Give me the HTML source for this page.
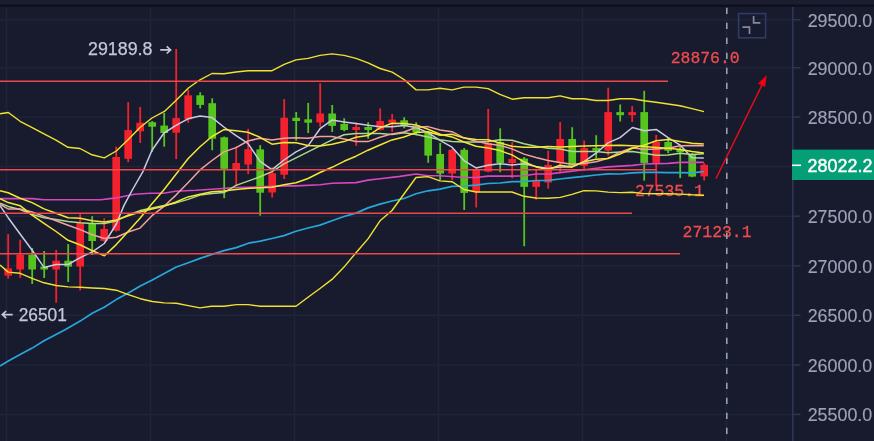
<!DOCTYPE html><html><head><meta charset="utf-8"><title>chart</title><style>html,body{margin:0;padding:0;background:#171b2d;overflow:hidden}svg{display:block}text{font-family:"Liberation Sans",sans-serif}.m{font-family:"Liberation Mono","DejaVu Sans Mono",monospace}</style></head><body>
<svg width="874" height="441" viewBox="0 0 874 441">
<rect width="874" height="441" fill="#171b2d"/>
<rect width="874" height="4.6" fill="#1b1d31"/>
<rect y="4.6" width="874" height="2.2" fill="#0f101b"/>
<g stroke="#1e2439" stroke-width="1.5"><line x1="0" y1="19.7" x2="792" y2="19.7"/><line x1="0" y1="67.7" x2="792" y2="67.7"/><line x1="0" y1="117.1" x2="792" y2="117.1"/><line x1="0" y1="166.7" x2="792" y2="166.7"/><line x1="0" y1="216.2" x2="792" y2="216.2"/><line x1="0" y1="265.8" x2="792" y2="265.8"/><line x1="0" y1="315.3" x2="792" y2="315.3"/><line x1="0" y1="364.9" x2="792" y2="364.9"/><line x1="0" y1="414.4" x2="792" y2="414.4"/><line x1="6.5" y1="7" x2="6.5" y2="441"/><line x1="150.5" y1="7" x2="150.5" y2="441"/><line x1="294.5" y1="7" x2="294.5" y2="441"/><line x1="438.5" y1="7" x2="438.5" y2="441"/><line x1="582.5" y1="7" x2="582.5" y2="441"/><line x1="726.5" y1="7" x2="726.5" y2="441"/></g>
<line x1="792.8" y1="7" x2="792.8" y2="441" stroke="#2c3757" stroke-width="1.6"/>
<line x1="792" y1="19.7" x2="800.5" y2="19.7" stroke="#2c3757" stroke-width="1.5"/><text x="807.7" y="26.6" font-size="18" fill="#9da2b8" stroke="#9da2b8" stroke-width="0.15" textLength="64.6" lengthAdjust="spacingAndGlyphs">29500.0</text><line x1="792" y1="67.7" x2="800.5" y2="67.7" stroke="#2c3757" stroke-width="1.5"/><text x="807.7" y="74.6" font-size="18" fill="#9da2b8" stroke="#9da2b8" stroke-width="0.15" textLength="64.6" lengthAdjust="spacingAndGlyphs">29000.0</text><line x1="792" y1="117.1" x2="800.5" y2="117.1" stroke="#2c3757" stroke-width="1.5"/><text x="807.7" y="124.0" font-size="18" fill="#9da2b8" stroke="#9da2b8" stroke-width="0.15" textLength="64.6" lengthAdjust="spacingAndGlyphs">28500.0</text><line x1="792" y1="166.7" x2="800.5" y2="166.7" stroke="#2c3757" stroke-width="1.5"/><text x="807.7" y="173.6" font-size="18" fill="#9da2b8" stroke="#9da2b8" stroke-width="0.15" textLength="64.6" lengthAdjust="spacingAndGlyphs">28000.0</text><line x1="792" y1="216.2" x2="800.5" y2="216.2" stroke="#2c3757" stroke-width="1.5"/><text x="807.7" y="223.1" font-size="18" fill="#9da2b8" stroke="#9da2b8" stroke-width="0.15" textLength="64.6" lengthAdjust="spacingAndGlyphs">27500.0</text><line x1="792" y1="265.8" x2="800.5" y2="265.8" stroke="#2c3757" stroke-width="1.5"/><text x="807.7" y="272.6" font-size="18" fill="#9da2b8" stroke="#9da2b8" stroke-width="0.15" textLength="64.6" lengthAdjust="spacingAndGlyphs">27000.0</text><line x1="792" y1="315.3" x2="800.5" y2="315.3" stroke="#2c3757" stroke-width="1.5"/><text x="807.7" y="322.2" font-size="18" fill="#9da2b8" stroke="#9da2b8" stroke-width="0.15" textLength="64.6" lengthAdjust="spacingAndGlyphs">26500.0</text><line x1="792" y1="364.9" x2="800.5" y2="364.9" stroke="#2c3757" stroke-width="1.5"/><text x="807.7" y="371.8" font-size="18" fill="#9da2b8" stroke="#9da2b8" stroke-width="0.15" textLength="64.6" lengthAdjust="spacingAndGlyphs">26000.0</text><line x1="792" y1="414.4" x2="800.5" y2="414.4" stroke="#2c3757" stroke-width="1.5"/><text x="807.7" y="421.3" font-size="18" fill="#9da2b8" stroke="#9da2b8" stroke-width="0.15" textLength="64.6" lengthAdjust="spacingAndGlyphs">25500.0</text>
<rect x="7.30" y="234.1" width="1.8" height="44.6" fill="#f2212d"/><rect x="4.35" y="268.3" width="7.7" height="7.3" fill="#f2212d"/><rect x="19.30" y="239.7" width="1.8" height="38.3" fill="#f2212d"/><rect x="16.35" y="254.8" width="7.7" height="14.7" fill="#f2212d"/><rect x="31.30" y="248.1" width="1.8" height="35.9" fill="#55c41c"/><rect x="28.35" y="254.8" width="7.7" height="14.7" fill="#55c41c"/><rect x="43.30" y="251.0" width="1.8" height="27.0" fill="#55c41c"/><rect x="40.35" y="266.6" width="7.7" height="2.9" fill="#55c41c"/><rect x="55.30" y="250.0" width="1.8" height="52.7" fill="#f2212d"/><rect x="52.35" y="260.7" width="7.7" height="8.8" fill="#f2212d"/><rect x="67.30" y="244.1" width="1.8" height="37.9" fill="#55c41c"/><rect x="64.35" y="260.7" width="7.7" height="5.9" fill="#55c41c"/><rect x="79.30" y="213.9" width="1.8" height="76.5" fill="#f2212d"/><rect x="76.35" y="223.0" width="7.7" height="43.6" fill="#f2212d"/><rect x="91.30" y="216.2" width="1.8" height="38.8" fill="#55c41c"/><rect x="88.35" y="223.4" width="7.7" height="17.6" fill="#55c41c"/><rect x="103.30" y="218.3" width="1.8" height="23.2" fill="#f2212d"/><rect x="100.35" y="229.0" width="7.7" height="11.8" fill="#f2212d"/><rect x="115.30" y="146.7" width="1.8" height="84.8" fill="#f2212d"/><rect x="112.35" y="157.0" width="7.7" height="73.7" fill="#f2212d"/><rect x="127.30" y="102.1" width="1.8" height="60.1" fill="#f2212d"/><rect x="124.35" y="130.1" width="7.7" height="28.7" fill="#f2212d"/><rect x="139.30" y="106.9" width="1.8" height="36.1" fill="#f2212d"/><rect x="136.35" y="122.7" width="7.7" height="8.6" fill="#f2212d"/><rect x="151.30" y="121.0" width="1.8" height="30.9" fill="#55c41c"/><rect x="148.35" y="122.2" width="7.7" height="4.5" fill="#55c41c"/><rect x="163.30" y="113.0" width="1.8" height="33.7" fill="#55c41c"/><rect x="160.35" y="125.6" width="7.7" height="7.4" fill="#55c41c"/><rect x="175.30" y="48.9" width="1.8" height="110.2" fill="#f2212d"/><rect x="172.35" y="118.1" width="7.7" height="14.6" fill="#f2212d"/><rect x="187.30" y="89.8" width="1.8" height="32.9" fill="#f2212d"/><rect x="184.35" y="95.3" width="7.7" height="24.0" fill="#f2212d"/><rect x="199.30" y="92.3" width="1.8" height="16.2" fill="#55c41c"/><rect x="196.35" y="95.3" width="7.7" height="9.6" fill="#55c41c"/><rect x="211.30" y="98.3" width="1.8" height="51.9" fill="#55c41c"/><rect x="208.35" y="103.2" width="7.7" height="35.5" fill="#55c41c"/><rect x="223.30" y="136.5" width="1.8" height="61.7" fill="#55c41c"/><rect x="220.35" y="137.3" width="7.7" height="31.5" fill="#55c41c"/><rect x="235.30" y="146.6" width="1.8" height="38.9" fill="#f2212d"/><rect x="232.35" y="163.0" width="7.7" height="7.0" fill="#f2212d"/><rect x="247.30" y="128.8" width="1.8" height="45.4" fill="#f2212d"/><rect x="244.35" y="149.2" width="7.7" height="15.3" fill="#f2212d"/><rect x="259.30" y="145.1" width="1.8" height="70.5" fill="#55c41c"/><rect x="256.35" y="149.4" width="7.7" height="43.3" fill="#55c41c"/><rect x="271.30" y="167.4" width="1.8" height="30.1" fill="#f2212d"/><rect x="268.35" y="173.2" width="7.7" height="19.3" fill="#f2212d"/><rect x="283.30" y="99.1" width="1.8" height="79.9" fill="#f2212d"/><rect x="280.35" y="117.8" width="7.7" height="56.9" fill="#f2212d"/><rect x="295.30" y="112.0" width="1.8" height="28.7" fill="#55c41c"/><rect x="292.35" y="117.8" width="7.7" height="3.2" fill="#55c41c"/><rect x="307.30" y="102.9" width="1.8" height="30.1" fill="#55c41c"/><rect x="304.35" y="119.3" width="7.7" height="3.4" fill="#55c41c"/><rect x="319.30" y="83.2" width="1.8" height="43.6" fill="#f2212d"/><rect x="316.35" y="113.5" width="7.7" height="8.9" fill="#f2212d"/><rect x="331.30" y="105.0" width="1.8" height="27.0" fill="#55c41c"/><rect x="328.35" y="113.5" width="7.7" height="12.4" fill="#55c41c"/><rect x="343.30" y="118.3" width="1.8" height="13.0" fill="#55c41c"/><rect x="340.35" y="123.9" width="7.7" height="6.1" fill="#55c41c"/><rect x="355.30" y="122.7" width="1.8" height="23.2" fill="#f2212d"/><rect x="352.35" y="127.0" width="7.7" height="3.0" fill="#f2212d"/><rect x="367.30" y="122.2" width="1.8" height="16.5" fill="#55c41c"/><rect x="364.35" y="127.0" width="7.7" height="3.0" fill="#55c41c"/><rect x="379.30" y="108.4" width="1.8" height="22.1" fill="#f2212d"/><rect x="376.35" y="121.0" width="7.7" height="8.8" fill="#f2212d"/><rect x="391.30" y="114.0" width="1.8" height="17.9" fill="#f2212d"/><rect x="388.35" y="119.6" width="7.7" height="3.1" fill="#f2212d"/><rect x="403.30" y="117.2" width="1.8" height="11.1" fill="#55c41c"/><rect x="400.35" y="120.3" width="7.7" height="5.1" fill="#55c41c"/><rect x="415.30" y="122.3" width="1.8" height="12.9" fill="#55c41c"/><rect x="412.35" y="125.7" width="7.7" height="6.9" fill="#55c41c"/><rect x="427.30" y="131.5" width="1.8" height="31.3" fill="#55c41c"/><rect x="424.35" y="132.6" width="7.7" height="23.0" fill="#55c41c"/><rect x="439.30" y="142.9" width="1.8" height="37.1" fill="#55c41c"/><rect x="436.35" y="154.0" width="7.7" height="19.5" fill="#55c41c"/><rect x="451.30" y="148.6" width="1.8" height="31.4" fill="#f2212d"/><rect x="448.35" y="149.8" width="7.7" height="23.7" fill="#f2212d"/><rect x="463.30" y="148.0" width="1.8" height="62.0" fill="#55c41c"/><rect x="460.35" y="149.8" width="7.7" height="43.1" fill="#55c41c"/><rect x="475.30" y="169.0" width="1.8" height="38.5" fill="#f2212d"/><rect x="472.35" y="169.4" width="7.7" height="22.6" fill="#f2212d"/><rect x="487.30" y="108.9" width="1.8" height="63.4" fill="#f2212d"/><rect x="484.35" y="142.9" width="7.7" height="28.7" fill="#f2212d"/><rect x="499.30" y="128.3" width="1.8" height="43.9" fill="#55c41c"/><rect x="496.35" y="142.0" width="7.7" height="21.0" fill="#55c41c"/><rect x="511.30" y="142.0" width="1.8" height="36.3" fill="#f2212d"/><rect x="508.35" y="158.9" width="7.7" height="4.1" fill="#f2212d"/><rect x="523.30" y="157.0" width="1.8" height="89.2" fill="#55c41c"/><rect x="520.35" y="158.6" width="7.7" height="28.3" fill="#55c41c"/><rect x="535.30" y="168.9" width="1.8" height="30.9" fill="#f2212d"/><rect x="532.35" y="180.9" width="7.7" height="6.0" fill="#f2212d"/><rect x="547.30" y="150.6" width="1.8" height="38.0" fill="#f2212d"/><rect x="544.35" y="164.9" width="7.7" height="17.6" fill="#f2212d"/><rect x="559.30" y="122.0" width="1.8" height="50.0" fill="#f2212d"/><rect x="556.35" y="139.0" width="7.7" height="24.0" fill="#f2212d"/><rect x="571.30" y="127.2" width="1.8" height="40.2" fill="#55c41c"/><rect x="568.35" y="139.0" width="7.7" height="27.0" fill="#55c41c"/><rect x="583.30" y="140.5" width="1.8" height="29.8" fill="#f2212d"/><rect x="580.35" y="148.1" width="7.7" height="17.6" fill="#f2212d"/><rect x="595.30" y="135.2" width="1.8" height="23.1" fill="#55c41c"/><rect x="592.35" y="148.1" width="7.7" height="2.5" fill="#55c41c"/><rect x="607.30" y="87.7" width="1.8" height="68.0" fill="#f2212d"/><rect x="604.35" y="112.1" width="7.7" height="38.5" fill="#f2212d"/><rect x="619.30" y="104.5" width="1.8" height="17.0" fill="#55c41c"/><rect x="616.35" y="112.1" width="7.7" height="3.1" fill="#55c41c"/><rect x="631.30" y="106.1" width="1.8" height="15.9" fill="#f2212d"/><rect x="628.35" y="112.1" width="7.7" height="3.1" fill="#f2212d"/><rect x="643.30" y="90.8" width="1.8" height="89.8" fill="#55c41c"/><rect x="640.35" y="112.1" width="7.7" height="50.8" fill="#55c41c"/><rect x="655.30" y="134.9" width="1.8" height="51.7" fill="#f2212d"/><rect x="652.35" y="142.0" width="7.7" height="20.9" fill="#f2212d"/><rect x="667.30" y="137.7" width="1.8" height="15.5" fill="#55c41c"/><rect x="664.35" y="142.0" width="7.7" height="8.7" fill="#55c41c"/><rect x="679.30" y="145.4" width="1.8" height="32.7" fill="#55c41c"/><rect x="676.35" y="149.6" width="7.7" height="2.6" fill="#55c41c"/><rect x="691.30" y="153.0" width="1.8" height="24.2" fill="#55c41c"/><rect x="688.35" y="154.0" width="7.7" height="22.6" fill="#55c41c"/><rect x="703.30" y="163.2" width="1.8" height="17.3" fill="#f2212d"/><rect x="700.35" y="164.8" width="7.7" height="11.6" fill="#f2212d"/>
<text class="m" x="670.7" y="63.4" font-size="17" fill="#f04c4e" stroke="#f04c4e" stroke-width="0.3" textLength="69" lengthAdjust="spacingAndGlyphs">28876.0</text>
<text class="m" x="682.6" y="237.2" font-size="17" fill="#f04c4e" stroke="#f04c4e" stroke-width="0.3" textLength="69" lengthAdjust="spacingAndGlyphs">27123.1</text>
<text class="m" x="634.9" y="195.9" font-size="17" fill="#f04c4e" stroke="#f04c4e" stroke-width="0.3" textLength="69" lengthAdjust="spacingAndGlyphs">27535.1</text>
<polyline points="0.0,366.0 8.3,361.0 20.1,354.4 32.2,348.1 44.0,340.8 56.0,334.5 64.6,330.0 80.2,321.1 92.2,313.3 104.2,307.3 116.2,299.6 128.3,293.1 140.3,285.9 152.3,279.9 164.3,273.5 176.3,267.0 188.3,262.7 200.0,258.4 212.0,254.4 224.0,250.6 236.2,247.6 248.4,243.2 260.3,241.2 272.0,238.5 284.0,235.6 296.0,231.2 308.0,228.0 320.0,225.1 332.0,220.8 344.0,216.5 356.0,213.1 368.0,207.9 380.0,204.1 392.0,201.0 404.0,198.5 416.0,193.8 428.0,190.8 440.0,189.1 452.0,186.4 464.0,186.0 476.0,185.2 488.0,183.5 500.0,183.0 512.0,181.7 524.0,181.7 536.0,180.5 548.0,180.3 560.0,179.0 572.0,177.6 584.3,176.3 596.0,175.0 608.0,173.9 620.0,174.0 632.4,172.8 644.0,172.4 656.0,172.4 668.0,172.6 680.0,172.6 692.0,172.8 703.8,171.6" fill="none" stroke="#27a7dc" stroke-width="1.7" stroke-linejoin="round"/>
<polyline points="0.0,198.6 32.7,198.6 44.0,199.8 100.7,199.8 110.0,198.6 117.2,197.7 134.3,194.3 150.0,193.2 163.5,193.2 175.5,191.2 196.0,190.3 212.0,189.2 236.0,187.5 250.0,187.2 284.3,185.9 296.0,185.9 320.0,184.8 332.0,183.3 356.0,182.6 368.0,180.1 380.0,178.7 400.0,176.4 416.0,174.0 428.0,175.7 440.0,175.7 464.0,177.5 476.0,177.5 488.0,176.1 512.0,176.1 524.0,175.7 536.0,174.0 550.0,173.9 584.3,169.8 608.0,166.9 632.4,165.4 644.2,164.0 668.1,163.4 680.2,162.4 703.8,162.4" fill="none" stroke="#d846c0" stroke-width="1.6" stroke-linejoin="round"/>
<polyline points="0.0,113.8 8.3,112.5 20.1,121.3 32.2,127.6 44.0,133.9 56.0,140.2 68.0,147.3 80.0,148.5 92.0,154.8 104.3,157.9 116.3,151.0 128.3,139.5 140.0,127.5 152.0,118.0 164.4,111.4 176.4,100.0 188.4,88.0 200.0,79.8 212.0,73.5 224.0,73.8 236.0,72.0 248.0,70.7 260.0,70.7 272.1,70.7 284.2,64.4 296.0,59.9 308.1,58.4 320.0,55.4 332.0,53.9 344.1,55.4 356.0,58.4 368.0,62.9 380.1,68.5 392.2,72.2 404.0,79.5 416.1,89.9 427.9,89.9 440.0,88.2 452.1,89.9 463.9,87.1 476.0,87.1 488.1,88.6 499.9,94.4 512.2,99.2 524.1,97.7 536.0,97.7 548.2,97.7 560.1,95.9 572.1,98.8 584.0,98.8 596.0,100.5 608.1,100.5 620.0,98.7 632.0,98.7 644.0,100.7 656.0,102.3 668.0,104.0 680.0,105.7 692.0,108.6 704.0,111.6" fill="none" stroke="#f2e22f" stroke-width="1.4" stroke-linejoin="round"/>
<polyline points="0.0,265.1 8.2,272.1 20.1,273.3 32.1,278.4 44.0,282.8 56.1,285.5 68.1,286.9 80.2,287.3 92.2,288.0 104.2,288.5 116.2,290.2 128.3,294.6 140.3,298.7 152.3,301.5 164.3,302.9 176.3,303.3 188.3,305.6 200.0,307.9 211.4,306.3 224.0,306.3 236.4,304.6 248.4,304.6 260.3,306.3 272.0,306.3 284.0,306.3 296.0,306.3 308.0,297.3 320.0,288.5 332.0,279.4 344.0,267.1 356.0,252.7 368.0,238.9 380.0,220.8 392.0,210.5 404.0,194.0 416.0,177.5 428.0,176.6 440.0,180.9 452.0,181.7 464.0,189.5 476.0,192.0 488.0,192.0 500.0,192.0 512.0,192.0 524.0,196.3 536.0,198.0 548.0,198.3 560.3,197.4 572.0,194.4 584.0,190.6 596.0,190.9 608.0,192.1 620.0,192.6 632.0,192.3 644.0,193.6 656.0,193.8 668.0,193.8 680.0,194.1 692.0,194.8 704.0,195.2" fill="none" stroke="#f2e22f" stroke-width="1.4" stroke-linejoin="round"/>
<polyline points="0.0,205.7 8.2,217.7 20.1,234.0 32.0,250.0 44.0,267.4 56.1,264.5 68.1,264.5 80.2,257.6 92.3,251.9 104.3,243.5 116.3,224.0 124.0,205.4 132.3,190.0 142.9,171.6 152.0,150.2 164.0,133.0 176.0,125.3 188.0,118.8 200.0,115.9 212.0,117.6 223.9,127.0 236.1,135.6 247.9,143.3 260.0,161.3 272.0,169.6 284.0,160.0 296.0,151.9 308.0,145.9 320.0,128.7 332.0,120.1 344.0,121.9 356.0,123.6 368.0,125.3 380.0,126.7 392.0,126.7 404.0,125.4 416.0,127.5 428.0,132.6 440.0,140.3 452.0,147.2 464.0,160.6 476.0,167.9 488.0,165.3 500.0,163.7 512.0,165.1 524.0,163.7 536.0,166.6 548.0,168.6 560.0,166.9 572.0,166.9 584.0,161.7 596.0,153.2 608.0,142.9 620.0,137.6 632.4,127.5 644.2,130.7 656.2,129.4 668.1,137.6 680.2,145.1 692.0,157.7 703.8,158.0" fill="none" stroke="#c9cbe6" stroke-width="1.5" stroke-linejoin="round"/>
<polyline points="0.0,203.2 8.2,206.4 20.1,209.5 32.1,214.5 44.0,217.7 56.1,219.6 68.1,221.5 80.2,222.7 92.3,223.4 104.5,223.6 116.3,220.9 128.3,214.9 140.0,210.6 152.0,208.0 164.0,205.4 176.0,202.9 188.0,199.4 200.0,195.1 212.0,193.4 223.9,192.6 236.1,185.4 247.9,181.1 260.0,176.8 272.0,171.6 284.0,163.9 296.0,157.9 308.0,151.9 320.0,145.9 332.0,139.9 344.0,134.7 356.0,133.5 368.0,133.5 380.0,133.4 392.0,134.4 404.0,132.7 416.0,134.6 428.0,137.1 440.0,139.8 452.0,141.4 464.0,142.0 476.0,142.0 488.0,141.4 500.0,139.8 512.0,140.3 524.0,143.8 536.0,146.3 548.0,148.3 560.0,148.9 572.0,151.5 584.0,151.5 596.0,151.5 608.0,152.8 620.0,152.1 632.4,151.4 644.2,153.3 656.2,155.2 668.1,155.0 680.2,153.3 692.0,154.6 703.8,153.7" fill="none" stroke="#a9dc86" stroke-width="1.5" stroke-linejoin="round"/>
<polyline points="0.0,204.5 8.2,208.9 20.1,208.9 32.1,212.0 44.0,216.4 56.1,220.8 68.1,225.2 80.2,229.6 92.3,234.7 104.5,238.5 116.3,237.2 128.3,232.0 140.0,228.1 152.0,215.7 164.0,206.3 176.0,195.1 188.0,182.8 200.0,169.9 212.0,160.5 223.9,151.9 236.1,147.6 247.9,141.0 260.0,138.2 272.0,139.9 284.0,138.2 296.0,137.8 308.0,138.2 320.0,136.5 332.0,136.5 344.0,139.0 356.0,141.6 368.0,141.6 380.0,137.3 392.0,133.9 404.0,132.0 416.0,127.5 428.0,126.6 440.0,130.0 452.0,131.7 464.0,137.8 476.0,141.2 488.0,143.8 500.0,145.5 512.0,148.9 524.0,154.1 536.0,157.5 548.0,160.5 560.0,162.6 572.0,164.3 584.0,163.5 596.0,161.7 608.0,158.2 620.0,152.1 632.4,147.7 644.2,149.5 656.2,148.9 668.1,148.3 680.2,145.8 692.0,145.4 703.8,145.8" fill="none" stroke="#f3a29e" stroke-width="1.5" stroke-linejoin="round"/>
<polyline points="0.0,190.6 8.2,192.8 20.1,198.2 32.1,202.6 44.0,208.9 56.1,213.3 68.1,217.7 80.2,218.3 92.3,220.8 104.5,222.1 116.3,220.0 128.3,215.7 140.0,212.0 152.0,208.9 164.0,206.3 176.0,202.0 188.0,196.9 200.0,194.3 212.0,191.7 223.9,190.9 236.0,189.5 250.0,188.2 272.0,187.3 284.0,184.7 296.0,182.8 308.0,178.5 320.0,172.5 332.0,167.3 344.0,161.3 356.0,156.2 368.0,150.2 380.0,145.0 392.0,139.9 404.0,137.0 416.0,132.6 428.0,131.7 440.0,135.2 452.0,134.3 464.0,138.1 476.0,139.5 488.0,139.8 500.0,142.9 512.0,146.3 524.0,147.2 536.0,147.2 548.0,146.4 560.0,147.0 572.0,146.5 584.0,146.0 596.0,145.8 608.0,145.4 620.0,145.3 632.4,145.8 644.2,146.6 656.2,147.4 668.1,148.3 680.2,149.5 692.0,151.4 703.8,152.9" fill="none" stroke="#f5e636" stroke-width="1.5" stroke-linejoin="round"/>
<polyline points="0.0,198.6 8.2,202.6 20.1,205.7 32.1,215.2 44.0,223.4 56.1,231.5 68.1,240.3 80.5,245.0 92.3,250.7 104.4,255.7 116.3,244.6 128.3,231.2 140.0,218.3 152.0,203.7 163.7,190.0 176.0,174.2 188.0,158.8 200.0,146.7 212.0,136.5 223.9,129.6 236.1,130.8 247.9,132.2 260.0,137.3 272.0,144.2 284.0,142.5 296.0,142.8 308.0,145.5 320.0,145.9 332.0,144.2 344.0,141.6 356.0,137.3 368.0,135.6 380.0,127.9 392.0,123.2 404.0,123.4 416.0,124.9 428.0,129.2 440.0,134.3 452.0,136.9 464.0,142.0 476.0,146.3 488.0,148.1 500.0,150.6 512.0,154.9 524.0,161.8 536.0,166.9 548.0,169.5 560.0,165.2 572.0,166.9 584.0,161.7 596.0,159.2 608.0,158.5 620.0,154.0 632.4,148.3 644.2,145.1 656.2,140.7 668.1,139.5 680.2,141.4 692.0,143.3 703.8,144.1" fill="none" stroke="#f5e636" stroke-width="1.5" stroke-linejoin="round"/>
<g stroke="#ee484c" stroke-width="1.6"><line x1="0.0" y1="81.3" x2="668.0" y2="81.3"/><line x1="0.0" y1="169.8" x2="656.2" y2="169.8"/><line x1="0.0" y1="213.3" x2="632.0" y2="213.3"/><line x1="0.0" y1="253.8" x2="680.0" y2="253.8"/></g>
<text x="88" y="55.3" font-size="18" fill="#c4c7dc" stroke="#c4c7dc" stroke-width="0.25" textLength="64.4" lengthAdjust="spacingAndGlyphs">29189.8</text>
<path d="M160.2 49.9H170.4M166.7 46.3L170.6 49.9L166.7 53.5" fill="none" stroke="#c4c7dc" stroke-width="1.7"/>
<text x="18.7" y="320.9" font-size="18" fill="#c4c7dc" stroke="#c4c7dc" stroke-width="0.25" textLength="48.2" lengthAdjust="spacingAndGlyphs">26501</text>
<path d="M12.7 314.6H2.4M6.2 311L2.3 314.6L6.2 318.2" fill="none" stroke="#c4c7dc" stroke-width="1.7"/>
<line x1="726.8" y1="7.7" x2="726.8" y2="441" stroke="#979eb2" stroke-width="1.6" stroke-dasharray="6.4 8.6"/>
<line x1="716" y1="178.5" x2="762" y2="85" stroke="#ee0a16" stroke-width="1.5"/>
<polygon points="766.7,75.2 757.9,83.5 765.1,87" fill="#f2000f"/>
<rect x="738.6" y="13.6" width="27" height="24.2" fill="none" stroke="#313a62" stroke-width="1.6"/>
<path d="M753.6 16V22.8H760.4M742.4 27.2H749.5V33.9" fill="none" stroke="#8489a8" stroke-width="1.7"/>
<rect x="792" y="149.6" width="82" height="30.4" fill="#059f77"/>
<line x1="792" y1="165.3" x2="801" y2="165.3" stroke="#fff" stroke-width="1.6"/>
<text x="807.6" y="171.8" font-size="18" fill="#fff" stroke="#fff" stroke-width="0.4" textLength="64.8" lengthAdjust="spacingAndGlyphs">28022.2</text>
</svg></body></html>
